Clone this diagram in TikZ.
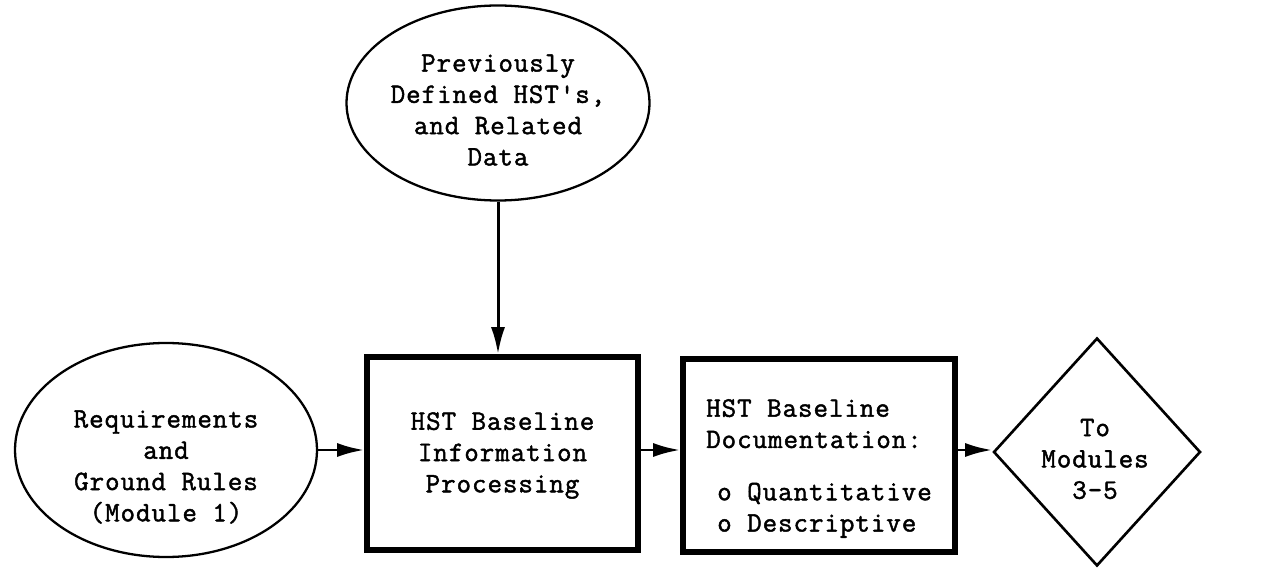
\documentclass[tikz,border=0pt]{standalone}
\usepackage{fontspec}
\newfontfamily\chartfont{Latin Modern Mono}[LetterSpace=3.5, FakeBold=1.6]
\usetikzlibrary{shapes.geometric,arrows.meta}

\begin{document}
\begin{tikzpicture}[
    every node/.style={font=\chartfont\fontsize{16}{17.8}\selectfont, align=center},
    source/.style={ellipse, draw, line width=1.3pt, inner sep=0pt},
    process/.style={rectangle, draw, line width=3.2pt, inner sep=0pt},
    exit/.style={diamond, draw, line width=1.5pt, inner sep=0pt},
    flow/.style={line width=1.7pt, -{Latex[length=0.54cm,width=0.28cm]}}
  ]
  \useasboundingbox (0,0) rectangle (25.32,11.34);

  % shapes first, their texts set a little low as typed
  \node[source, minimum width=6.04cm, minimum height=4.28cm] (rules) at (3.32,2.34) {};
  \node[source, minimum width=6.06cm, minimum height=3.9cm] (prior) at (9.96,9.28) {};
  \node[process, minimum width=5.42cm, minimum height=3.86cm] (proc) at (10.05,2.27) {};
  \node[process, minimum width=5.44cm, minimum height=3.86cm] (docs) at (16.38,2.23) {};
  \node[exit, minimum width=4.14cm, minimum height=4.56cm] (mods) at (21.94,2.30) {};

  \node (rulestext) at ([yshift=-0.34cm]rules.center) {Requirements\\and\\Ground Rules\\(Module 1)};
  \node (priortext) at ([yshift=-0.14cm]prior.center) {Previously\\Defined HST's,\\and Related\\Data};
  \node (proctext) at ([yshift=-0.04cm]proc.center) {HST Baseline\\Information\\Processing};
  \node[align=left] (docstext) at ([yshift=-0.26cm]docs.center)
    {HST Baseline\\Documentation:\\[0.42cm]\hspace{0.22cm}o Quantitative\\\hspace{0.22cm}o Descriptive};
  \node (modtext) at ([xshift=-0.04cm,yshift=-0.14cm]mods.center) {To\\Modules\\3-5};

  \draw[flow] (rules.east) -- (rules.east -| proc.west);
  \draw[flow] (prior.south) -- (prior.south |- proc.north);
  \draw[flow] (proc.east |- rules.east) -- (docs.west |- rules.east);
  \draw[flow] (docs.east |- rules.east) -- (mods.west |- rules.east);
\end{tikzpicture}
\end{document}
